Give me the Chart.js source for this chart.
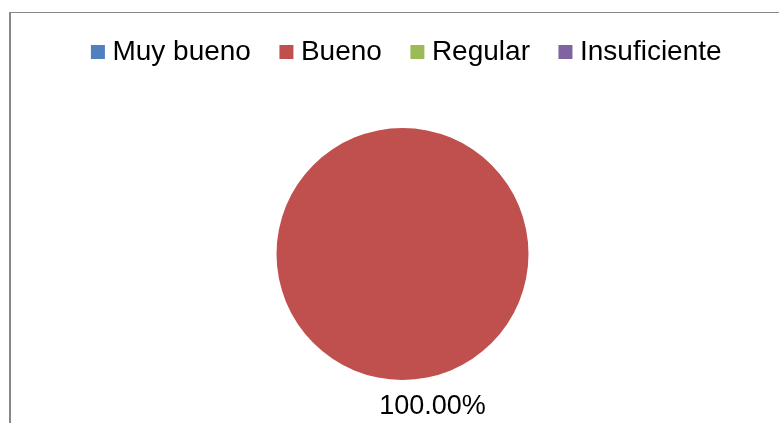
<!DOCTYPE html>
<html>
<head>
<meta charset="utf-8">
<script src="https://cdn.jsdelivr.net/npm/chart.js@4/dist/chart.umd.min.js"></script>
<style>
  html, body { margin: 0; padding: 0; background: #fff; overflow: hidden; width: 779px; height: 423px; }
  #frame { position: absolute; left: 9px; top: 12px; width: 900px; height: 500px; border: 1px solid #888; border-left-width: 2px; }
  #chart { position: absolute; left: 10px; top: 3px; }
</style>
</head>
<body>
<div id="frame"></div>
<canvas id="chart" width="785" height="429"></canvas>
<script>
const categories = ["Muy bueno", "Bueno", "Regular", "Insuficiente"];
const percentValues = [0, 100, 0, 0];
const sliceColors = ["#4F81BD", "#C0504D", "#9BBB59", "#8064A2"];

// Excel-style outside-end percent label
const labelPlugin = {
  id: "pctLabel",
  afterDatasetsDraw(chart) {
    const ctx = chart.ctx;
    const meta = chart.getDatasetMeta(0);
    meta.data.forEach((arc, i) => {
      const v = percentValues[i];
      if (!v) return;
      const mid = (arc.startAngle + arc.endAngle) / 2;
      const r = arc.outerRadius + 27;
      const x = arc.x + Math.cos(mid) * r + 30;
      const y = arc.y + Math.sin(mid) * r;
      ctx.save();
      ctx.font = "27px 'Liberation Sans', Arial, sans-serif";
      ctx.fillStyle = "#000";
      ctx.textAlign = "center";
      ctx.textBaseline = "middle";
      ctx.fillText(v.toFixed(2) + "%", x, y);
      ctx.restore();
    });
  }
};

// nudge legend a bit right, the original sits slightly off the pie's centre
const legendNudge = {
  id: "legendNudge",
  afterLayout(chart) {
    chart.legend.left += 7;
    chart.legend.right += 7;
  }
};

const ctx = document.getElementById("chart").getContext("2d");
new Chart(ctx, {
  type: "pie",
  data: {
    labels: categories,
    datasets: [{
      data: percentValues,
      backgroundColor: sliceColors,
      borderWidth: 0
    }]
  },
  options: {
    responsive: false,
    maintainAspectRatio: false,
    animation: false,
    radius: 126,
    layout: { padding: 0 },
    plugins: {
      legend: {
        position: "top",
        labels: {
          usePointStyle: true,
          pointStyle: "rect",
          boxWidth: 1,
          boxHeight: 14,
          padding: 35,
          color: "#000",
          font: { family: "'Liberation Sans', Arial, sans-serif", size: 28 }
        }
      },
      tooltip: { enabled: false }
    }
  },
  plugins: [labelPlugin, legendNudge]
});
</script>
</body>
</html>
